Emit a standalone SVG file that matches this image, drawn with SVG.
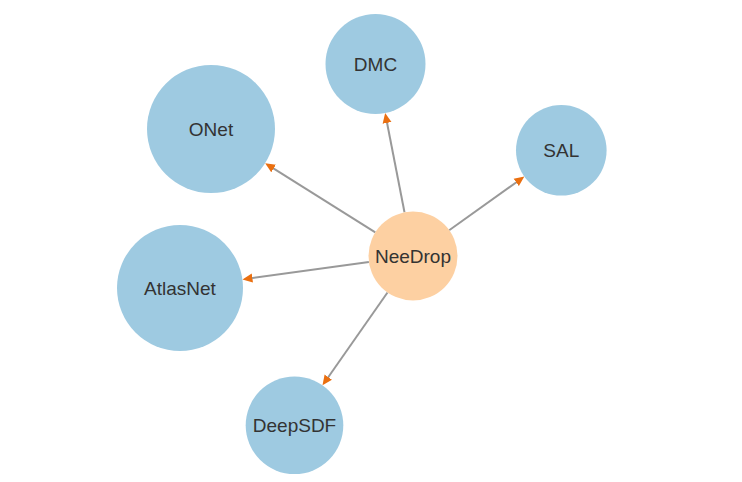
<svg xmlns="http://www.w3.org/2000/svg" width="742" height="482" viewBox="0 0 742 482">
<style>
.edge{stroke:#999;stroke-width:2;fill:none;marker-end:url(#arr)}
.leaf{fill:#9ecae1}
.root{fill:#fdd0a2}
text{font-family:"Liberation Sans",Arial,sans-serif;font-size:19px;fill:#333;text-anchor:middle}
</style>
<defs>
<marker id="arr" viewBox="0 0 10 10" markerUnits="userSpaceOnUse" markerWidth="10" markerHeight="10" refX="5" refY="5" orient="auto">
<path d="M0,0.5 L10,5 L0,9.5 z" fill="#ea6f10"/>
</marker>
</defs>
<rect width="742" height="482" fill="#fff"/>
<g id="edges">
<line class="edge" x1="375.3" y1="232.3" x2="269.4" y2="165.8"/>
<line class="edge" x1="404.5" y1="212.3" x2="386.1" y2="118.0"/>
<line class="edge" x1="449.2" y1="230.2" x2="520.3" y2="179.5"/>
<line class="edge" x1="368.9" y1="262.1" x2="247.4" y2="278.7"/>
<line class="edge" x1="387.5" y1="292.5" x2="325.4" y2="381.2"/>
</g>
<g id="NeeDrop"><circle class="root" cx="413" cy="256" r="44.5"/><text x="413" y="262.7">NeeDrop</text></g>
<g id="DMC"><circle class="leaf" cx="375.5" cy="64" r="50"/><text x="375.5" y="70.7">DMC</text></g>
<g id="ONet"><circle class="leaf" cx="211" cy="129" r="64"/><text x="211" y="135.7">ONet</text></g>
<g id="SAL"><circle class="leaf" cx="561.3" cy="150.3" r="45.3"/><text x="561.3" y="157">SAL</text></g>
<g id="AtlasNet"><circle class="leaf" cx="180" cy="288" r="63"/><text x="180" y="294.7">AtlasNet</text></g>
<g id="DeepSDF"><circle class="leaf" cx="294.5" cy="425.3" r="48.8"/><text x="294.5" y="432">DeepSDF</text></g>
</svg>
